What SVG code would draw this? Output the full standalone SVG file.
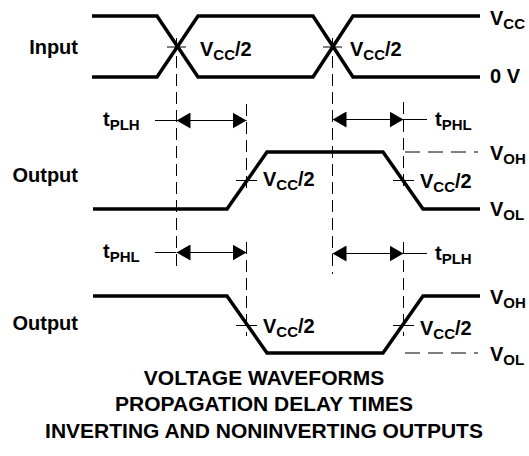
<svg xmlns="http://www.w3.org/2000/svg" width="529" height="456" viewBox="0 0 529 456">
<style>
.w{fill:none;stroke:#000;stroke-width:3.5;stroke-linejoin:miter}
.t{fill:none;stroke:#000;stroke-width:1}
.d{fill:none;stroke:#000;stroke-width:1;stroke-dasharray:12 6}
.lb{font-family:"Liberation Sans",Arial,sans-serif;font-weight:bold;font-size:20px;fill:#000}
.s{font-size:15px}
.ti{font-family:"Liberation Sans",Arial,sans-serif;font-weight:bold;font-size:21px;fill:#000;text-anchor:middle}
</style>
<defs>
<marker id="ah" viewBox="0 0 14 16" refX="14" refY="8" markerWidth="14" markerHeight="16" markerUnits="userSpaceOnUse" orient="auto-start-reverse">
<path d="M0,0 L14,8 L0,16 Z" fill="#000"/>
</marker>
</defs>
<rect width="529" height="456" fill="#fff"/>
<g id="input">
<path class="w" d="M92,16 H157 L198,77 H313 L353,16 H480"/>
<path class="w" d="M92,77 H157 L198,16 H313 L353,77 H480"/>
<text class="lb" x="78" y="54" text-anchor="end">Input</text>
<text class="lb" x="200" y="56">V<tspan class="s" dy="4">CC</tspan><tspan dy="-4">/2</tspan></text>
<text class="lb" x="350" y="56">V<tspan class="s" dy="4">CC</tspan><tspan dy="-4">/2</tspan></text>
<text class="lb" x="490" y="25">V<tspan class="s" dy="4">CC</tspan></text>
<text class="lb" x="490" y="83">0 V</text>
</g>
<g id="output1">
<path class="w" d="M93,209 H227 L267,152 H383 L423,209 H480"/>
<text class="lb" x="78" y="182" text-anchor="end">Output</text>
<text class="lb" x="263" y="186">V<tspan class="s" dy="4">CC</tspan><tspan dy="-4">/2</tspan></text>
<text class="lb" x="420" y="188">V<tspan class="s" dy="4">CC</tspan><tspan dy="-4">/2</tspan></text>
<text class="lb" x="490" y="160">V<tspan class="s" dy="4">OH</tspan></text>
<text class="lb" x="490" y="216">V<tspan class="s" dy="4">OL</tspan></text>
<text class="lb" x="103" y="126">t<tspan class="s" dy="4">PLH</tspan></text>
<text class="lb" x="435" y="126">t<tspan class="s" dy="4">PHL</tspan></text>
</g>
<g id="output2">
<path class="w" d="M93,296 H227 L267,353 H383 L423,296 H480"/>
<text class="lb" x="78" y="330" text-anchor="end">Output</text>
<text class="lb" x="263" y="333">V<tspan class="s" dy="4">CC</tspan><tspan dy="-4">/2</tspan></text>
<text class="lb" x="420" y="335">V<tspan class="s" dy="4">CC</tspan><tspan dy="-4">/2</tspan></text>
<text class="lb" x="490" y="304">V<tspan class="s" dy="4">OH</tspan></text>
<text class="lb" x="490" y="361">V<tspan class="s" dy="4">OL</tspan></text>
<text class="lb" x="103" y="258">t<tspan class="s" dy="4">PHL</tspan></text>
<text class="lb" x="435" y="260">t<tspan class="s" dy="4">PLH</tspan></text>
</g>
<g id="connectors">
<line class="t" x1="167" y1="47" x2="186" y2="47"/>
<line class="t" x1="323" y1="47" x2="342" y2="47"/>
<line class="d" x1="176.5" y1="38" x2="176.5" y2="272"/>
<line class="d" x1="332.5" y1="38" x2="332.5" y2="274"/>
<line class="d" x1="246.5" y1="104" x2="246.5" y2="192"/>
<line class="d" x1="403.5" y1="102" x2="403.5" y2="192"/>
<line class="d" x1="246.5" y1="242" x2="246.5" y2="336"/>
<line class="d" x1="403.5" y1="242" x2="403.5" y2="336"/>
<line class="t" x1="236" y1="180.5" x2="257" y2="180.5"/>
<line class="t" x1="393" y1="180.5" x2="414" y2="180.5"/>
<line class="t" x1="236" y1="325.5" x2="257" y2="325.5"/>
<line class="t" x1="393" y1="325.5" x2="414" y2="325.5"/>
<line class="d" x1="405" y1="152" x2="478" y2="152" style="stroke-dasharray:15 8"/>
<line class="d" x1="405" y1="353" x2="478" y2="353" style="stroke-dasharray:15 8"/>
<line class="t" x1="155" y1="120.5" x2="176" y2="120.5"/>
<line class="t" x1="176.5" y1="120.5" x2="246.5" y2="120.5" marker-start="url(#ah)" marker-end="url(#ah)"/>
<line class="t" x1="332.5" y1="119.5" x2="403.5" y2="119.5" marker-start="url(#ah)" marker-end="url(#ah)"/>
<line class="t" x1="403" y1="119.5" x2="427" y2="119.5"/>
<line class="t" x1="155" y1="252.5" x2="176" y2="252.5"/>
<line class="t" x1="176.5" y1="252.5" x2="246.5" y2="252.5" marker-start="url(#ah)" marker-end="url(#ah)"/>
<line class="t" x1="332.5" y1="253.5" x2="403.5" y2="253.5" marker-start="url(#ah)" marker-end="url(#ah)"/>
<line class="t" x1="403" y1="253.5" x2="427" y2="253.5"/>
</g>
<g id="title">
<text class="ti" x="264" y="385">VOLTAGE WAVEFORMS</text>
<text class="ti" x="264" y="411">PROPAGATION DELAY TIMES</text>
<text class="ti" x="264" y="438">INVERTING AND NONINVERTING OUTPUTS</text>
</g>
</svg>
